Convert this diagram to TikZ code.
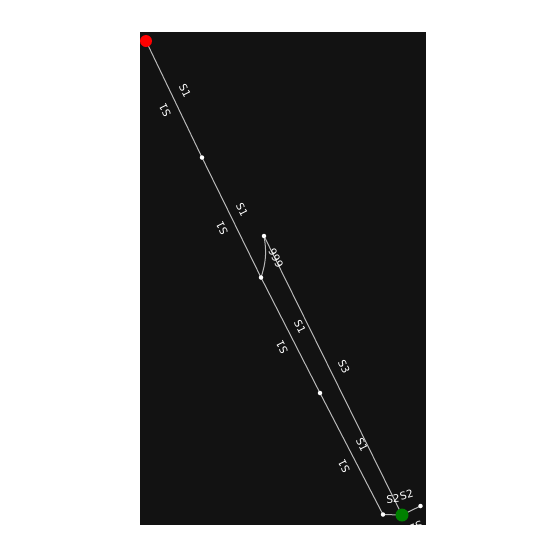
\documentclass[tikz,border=0pt]{standalone}
\usepackage{fontspec}
\setmainfont{DejaVu Sans}
\pgfdeclarelayer{edgelayer}
\pgfdeclarelayer{bglayer}
\pgfsetlayers{bglayer,edgelayer,main}
\begin{document}
\begin{tikzpicture}[x=1pt,y=-1pt,
  dot/.style={circle,fill=white,inner sep=0pt,minimum size=4.5pt},
  bigred/.style={circle,fill=red,inner sep=0pt,minimum size=12pt},
  biggreen/.style={circle,fill=green!50!black,inner sep=0pt,minimum size=13pt},
  lbl/.style={text=white,font=\fontsize{10.5}{11}\selectfont,inner sep=0pt},
  link/.style={draw=black!28,line width=1pt}]
\useasboundingbox (0,0) rectangle (550,550);
\begin{pgfonlayer}{bglayer}
\fill[black!93] (140,32) rectangle (426,525);
\end{pgfonlayer}
\node[bigred] (R) at (146,41) {};
\node[dot] (A) at (202,157.5) {};
\node[dot] (F) at (264,236) {};
\node[dot] (B) at (261,277.5) {};
\node[dot] (C) at (320,393) {};
\node[dot] (D) at (383,514.5) {};
\node[biggreen] (G) at (402,515) {};
\node[dot] (E) at (420.5,506) {};
\begin{pgfonlayer}{edgelayer}
\draw[link] (R.center) -- (A.center) -- (B.center) -- (C.center) -- (D.center);
\draw[link] (F.center) -- (G.center);
\draw[link] (F.center) to[bend left=14] (B.center);
\draw[link] (D.center) -- (G.center) -- (E.center);
\end{pgfonlayer}
\begin{scope}
\clip (140,32) rectangle (426,525);
\node[lbl,rotate=-63.5] (l1) at (185,91) {S1};
\node[lbl,rotate=116.5] (l2) at (165,110) {S1};
\node[lbl,rotate=-63.5] (l3) at (242,210) {S1};
\node[lbl,rotate=116.5] (l4) at (222,228) {S1};
\node[lbl,rotate=-63.5] (l5) at (300,327) {S1};
\node[lbl,rotate=116.5] (l6) at (282,347) {S1};
\node[lbl,rotate=-63.5] (l7) at (362,445) {S1};
\node[lbl,rotate=116.5] (l8) at (344,466) {S1};
\node[lbl,rotate=116.5] (l9) at (276,258) {666};
\node[lbl,rotate=-63.5] (l10) at (344,367) {S3};
\node[lbl,rotate=3] (l11) at (393,499) {S2};
\node[lbl,rotate=16] (l12) at (406.5,494.5) {S2};
\node[lbl,rotate=204] (l13) at (416,527) {S2};
\end{scope}
\end{tikzpicture}
\end{document}
